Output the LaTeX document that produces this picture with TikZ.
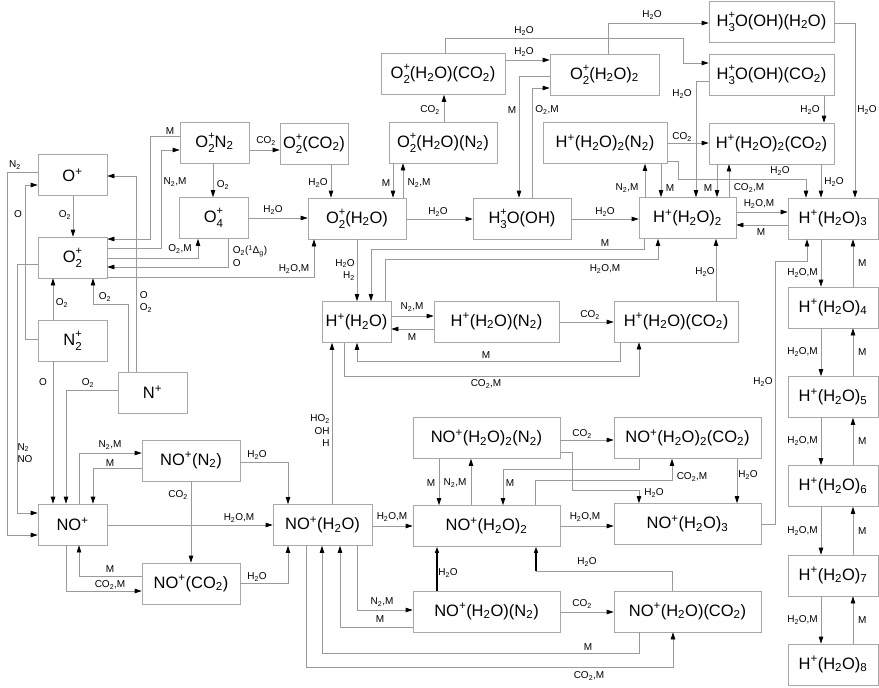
\documentclass[tikz,border=0pt]{standalone}
\usepackage{fontspec}
\setmainfont{Liberation Sans}
\usetikzlibrary{arrows.meta}
\definecolor{lncol}{HTML}{9A9A9A}
\definecolor{boxcol}{HTML}{A8A8A8}
\newcommand{\dn}[1]{\textsubscript{#1}}
\newcommand{\pl}{\textsuperscript{+}}
\newcommand{\ion}[1]{\makebox[0pt][l]{\raisebox{0.5em}{\fontsize{11}{11}\selectfont +}}%
  \raisebox{-0.3em}{\fontsize{11.5}{11.5}\selectfont #1}}
\begin{document}
\begin{tikzpicture}[x=1pt, y=-1pt,
  box/.style={draw=boxcol, line width=0.7pt, minimum height=41pt, inner sep=0pt,
    font=\fontsize{16.5}{18}\selectfont},
  ln/.style={draw=lncol, line width=0.7pt},
  rx/.style={ln, -{Triangle[length=7pt,width=4.5pt,color=black]}},
  rxb/.style={draw=black, line width=1.3pt, -{Triangle[length=6pt,width=4pt]}},
  lbl/.style={font=\fontsize{10}{12.5}\selectfont, inner sep=0pt}]
  \useasboundingbox (0,0) rectangle (879,688);
  % atomic and small ions
  \node[box, minimum width=69pt] (Op) at (72.5,175) {O\pl};
  \node[box, minimum width=69pt] (Otwo) at (72.5,257.5) {O\ion2};
  \node[box, minimum width=69pt] (NtwoP) at (72.5,340.5) {N\ion2};
  \node[box, minimum width=69pt] (Np) at (152.5,392.5) {N\pl};
  \node[box, minimum width=69pt] (NOp) at (72.5,524.5) {NO\pl};
  \node[box, minimum width=98pt] (NON) at (191,460.5) {NO\pl(N\dn2)};
  \node[box, minimum width=98pt] (NOC) at (191,583.5) {NO\pl(CO\dn2)};
  \node[box, minimum width=99pt] (NOW1) at (322.5,525) {NO\pl(H\dn2O)};
  % oxygen cluster ions
  \node[box, minimum width=69pt] (OtwoN) at (214.5,142.5) {O\ion2N\dn2};
  \node[box, minimum width=69pt] (Ofour) at (213.5,218) {O\ion4};
  \node[box, minimum width=68pt] (OtwoC) at (314,143.5) {O\ion2(CO\dn2)};
  \node[box, minimum width=98pt] (OW1) at (357,218.5) {O\ion2(H\dn2O)};
  \node[box, minimum width=108pt] (OW1N) at (443,142.5) {O\ion2(H\dn2O)(N\dn2)};
  \node[box, minimum width=124pt] (OW1C) at (443,74) {O\ion2(H\dn2O)(CO\dn2)};
  \node[box, minimum width=109pt] (OW2) at (604.5,74.5) {O\ion2(H\dn2O)\dn2};
  \node[box, minimum width=98pt] (HOH) at (522,218.5) {H\ion3O(OH)};
  \node[box, minimum width=125pt] (HOHW) at (771.5,21.5) {H\ion3O(OH)(H\dn2O)};
  \node[box, minimum width=125pt] (HOHC) at (771.5,75) {H\ion3O(OH)(CO\dn2)};
  % proton hydrates
  \node[box, minimum width=124pt] (HW2N) at (605,143) {H\pl(H\dn2O)\dn2(N\dn2)};
  \node[box, minimum width=125pt] (HW2C) at (771.5,143.5) {H\pl(H\dn2O)\dn2(CO\dn2)};
  \node[box, minimum width=97pt] (HW2) at (687.5,218) {H\pl(H\dn2O)\dn2};
  \node[box, minimum width=69pt] (HW1) at (356.5,322) {H\pl(H\dn2O)};
  \node[box, minimum width=125pt] (HW1N) at (496.5,321.5) {H\pl(H\dn2O)(N\dn2)};
  \node[box, minimum width=124pt] (HW1C) at (676,321.5) {H\pl(H\dn2O)(CO\dn2)};
  \foreach \n/\y in {3/218.5,4/307.5,5/397,6/486,7/575.5,8/664.5}
    \node[box, minimum width=90pt] (HW\n) at (833,\y) {H\pl(H\dn2O)\dn{\n}};
  % NO+ hydrates
  \node[box, minimum width=147pt] (NOW2N) at (486.5,438) {NO\pl(H\dn2O)\dn2(N\dn2)};
  \node[box, minimum width=147pt] (NOW2) at (486.5,526) {NO\pl(H\dn2O)\dn2};
  \node[box, minimum width=147pt] (NOW1N) at (486.5,611.5) {NO\pl(H\dn2O)(N\dn2)};
  \node[box, minimum width=147pt] (NOW2C) at (687.5,438) {NO\pl(H\dn2O)\dn2(CO\dn2)};
  \node[box, minimum width=147pt] (NOW3) at (687.5,524) {NO\pl(H\dn2O)\dn3};
  \node[box, minimum width=147pt] (NOW1C) at (687.5,611.5) {NO\pl(H\dn2O)(CO\dn2)};

  % left side reactions
  \draw[rx] (Op.west |- 0,172) -- (7,172) -- (7,535) -- (NOp.west |- 0,535);
  \draw[rx] (NtwoP.west |- 0,339) -- (25,339) -- (25,185) -- (Op.west |- 0,185);
  \draw[rx] (Op.south -| 73,0) -- (Otwo.north -| 73,0);
  \draw[rx] (Otwo.west |- 0,264) -- (17,264) -- (17,513) -- (NOp.west |- 0,513);
  \draw[rx] (NtwoP.north -| 53,0) -- (Otwo.south -| 53,0);
  \draw[rx] (Np.north -| 128,0) -- (128,304) -- (93,304) -- (Otwo.south -| 93,0);
  \draw[rx] (Np.north -| 136,0) -- (136,176) -- (Op.east |- 0,176);
  \draw[rx] (NtwoP.south -| 53,0) -- (NOp.north -| 53,0);
  \draw[rx] (Np.west |- 0,390) -- (66,390) -- (NOp.north -| 66,0);
  \draw[rx] (NOp.north -| 79,0) -- (79,453) -- (NON.west |- 0,453);
  \draw[rx] (NON.west |- 0,468) -- (93,468) -- (NOp.north -| 93,0);
  \draw[rx] (NON.south -| 191,0) -- (NOC.north -| 191,0);
  \draw[rx] (NON.east |- 0,462) -- (288,462) -- (NOW1.north -| 288,0);
  \draw[rx] (NOp.east |- 0,525) -- (NOW1.west |- 0,525);
  \draw[rx] (NOC.west |- 0,576) -- (79,576) -- (NOp.south -| 79,0);
  \draw[rx] (NOp.south -| 66,0) -- (66,591) -- (NOC.west |- 0,591);
  \draw[rx] (NOC.east |- 0,583) -- (288,583) -- (NOW1.south -| 288,0);
  % O2+ branch
  \draw[rx] (OtwoN.west |- 0,136) -- (150,136) -- (150,239) -- (Otwo.east |- 0,239);
  \draw[rx] (Otwo.east |- 0,248) -- (161,248) -- (161,150) -- (OtwoN.west |- 0,150);
  \draw[rx] (Otwo.east |- 0,258) -- (198,258) -- (Ofour.south -| 198,0);
  \draw[rx] (Ofour.south -| 228,0) -- (228,267) -- (Otwo.east |- 0,267);
  \draw[rx] (Otwo.east |- 0,277) -- (314,277) -- (OW1.south -| 314,0);
  \draw[rx] (OtwoN.east |- 0,150) -- (OtwoC.west |- 0,150);
  \draw[rx] (OtwoN.south -| 213,0) -- (Ofour.north -| 213,0);
  \draw[rx] (Ofour.east |- 0,218) -- (OW1.west |- 0,218);
  \draw[rx] (OtwoC.south -| 331,0) -- (OW1.north -| 331,0);
  \draw[rx] (OW1.north -| 403,0) -- (OW1N.south -| 403,0);
  \draw[rx] (OW1N.south -| 393,0) -- (OW1.north -| 393,0);
  \draw[rx] (OW1N.north -| 444,0) -- (OW1C.south -| 444,0);
  \draw[rx] (OW1.east |- 0,219) -- (HOH.west |- 0,219);
  \draw[rx] (OW1C.east |- 0,60) -- (OW2.west |- 0,60);
  \draw[rx] (OW1C.north -| 445,0) -- (445,38) -- (683,38) -- (683,63) -- (HOHC.west |- 0,63);
  \draw[rx] (OW2.north -| 608,0) -- (608,23) -- (HOHW.west |- 0,23);
  \draw[rx] (OW2.west |- 0,76) -- (519,76) -- (HOH.north -| 519,0);
  \draw[rx] (HOH.north -| 532,0) -- (532,88) -- (OW2.west |- 0,88);
  \draw[rx] (HOH.east |- 0,219) -- (HW2.west |- 0,219);
  \draw[rx] (HOHC.west |- 0,81) -- (696,81) -- (HW2.north -| 696,0);
  \draw[rx] (HOHC.south -| 824,0) -- (HW2C.north -| 824,0);
  \draw[rx] (HOHW.east |- 0,23) -- (855,23) -- (HW3.north -| 855,0);
  % H+(H2O)2 clusters
  \draw[rx] (HW2N.east |- 0,143) -- (HW2C.west |- 0,143);
  \draw[rx] (HW2.north -| 645,0) -- (HW2N.south -| 645,0);
  \draw[rx] (HW2N.south -| 661,0) -- (HW2.north -| 661,0);
  \draw[rx] (HW2N.east |- 0,161) -- (678,161) -- (678,179) -- (806,179) -- (HW3.north -| 806,0);
  \draw[rx] (HW2C.south -| 717,0) -- (HW2.north -| 717,0);
  \draw[rx] (HW2.north -| 729,0) -- (HW2C.south -| 729,0);
  \draw[rx] (HW2C.south -| 821,0) -- (HW3.north -| 821,0);
  \draw[rx] (HW2.east |- 0,212) -- (HW3.west |- 0,212);
  \draw[rx] (HW3.west |- 0,225) -- (HW2.east |- 0,225);
  \foreach \a/\b/\ly in {3/4/273,4/5/352,5/6/441,6/7/531,7/8/620}{
    \draw[rx] (HW\a.south -| 821,0) -- (HW\b.north -| 821,0);
    \draw[rx] (HW\b.north -| 853,0) -- (HW\a.south -| 853,0);
    \path (HW\a.south) -- coordinate (m\a) (HW\b.north);
    \node[lbl, anchor=east] (lw\a) at (818,\ly) {H\dn2O,M};
    \node[lbl, anchor=west] (lm\a) at (m\a -| 858,0) {M};
  }
  \draw[rx] (NOW3.east |- 0,524) -- (775,524) -- (775,261) -- (807,261) -- (HW3.south -| 807,0);
  % H+(H2O) clusters
  \draw[rx] (HW2.south -| 644,0) -- (644,249) -- (371,249) -- (HW1.north -| 371,0);
  \draw[rx] (HW1.north -| 385,0) -- (385,259) -- (658,259) -- (HW2.south -| 658,0);
  \draw[rx] (OW1.south -| 357,0) -- (HW1.north -| 357,0);
  \draw[rx] (HW1.east |- 0,316) -- (HW1N.west |- 0,316);
  \draw[rx] (HW1N.west |- 0,329) -- (HW1.east |- 0,329);
  \draw[rx] (HW1N.east |- 0,322) -- (HW1C.west |- 0,322);
  \draw[rx] (HW1C.south -| 620,0) -- (620,361) -- (357,361) -- (HW1.south -| 357,0);
  \draw[rx] (HW1.south -| 344,0) -- (344,376) -- (639,376) -- (HW1C.south -| 639,0);
  \draw[rx] (HW1C.north -| 716,0) -- (HW2.south -| 716,0);
  \draw[rx] (NOW1.north -| 332,0) -- (HW1.south -| 332,0);
  % NO+ hydrate reactions
  \draw[rx] (NOW1.east |- 0,526) -- (NOW2.west |- 0,526);
  \draw[rx] (NOW2N.south -| 439,0) -- (NOW2.north -| 439,0);
  \draw[rx] (NOW2.north -| 471,0) -- (NOW2N.south -| 471,0);
  \draw[rx] (NOW2C.south -| 639,0) -- (639,469) -- (503,469) -- (NOW2.north -| 503,0);
  \draw[rx] (NOW2.north -| 535,0) -- (535,480) -- (672,480) -- (NOW2C.south -| 672,0);
  \draw[rx] (NOW2N.east |- 0,440) -- (NOW2C.west |- 0,440);
  \draw[rx] (NOW2N.east |- 0,452) -- (572,452) -- (572,490) -- (639,490) -- (NOW3.north -| 639,0);
  \draw[rx] (NOW2C.south -| 737,0) -- (NOW3.north -| 737,0);
  \draw[rx] (NOW2.east |- 0,526) -- (NOW3.west |- 0,526);
  \draw[rxb] (NOW1N.north -| 437,0) -- (NOW2.south -| 437,0);
  \coordinate (k80) at (536,571);
  \draw[ln] (NOW1C.north -| 672,0) -- (672,571) -- (k80);
  \draw[rxb] (k80) -- (NOW2.south -| 536,0);
  \draw[rx] (NOW1N.east |- 0,612) -- (NOW1C.west |- 0,612);
  \draw[rx] (NOW1.south -| 357,0) -- (357,610) -- (NOW1N.west |- 0,610);
  \draw[rx] (NOW1N.west |- 0,627) -- (340,627) -- (NOW1.south -| 340,0);
  \draw[rx] (NOW1C.south -| 639,0) -- (639,653) -- (322,653) -- (NOW1.south -| 322,0);
  \draw[rx] (NOW1.south -| 306,0) -- (306,667) -- (673,667) -- (NOW1C.south -| 673,0);

  % reactant labels
  \node[lbl] (l1) at (15,165) {N\dn2};
  \node[lbl] (l2) at (18,214) {O};
  \node[lbl] (l3) at (65,215) {O\dn2};
  \node[lbl] (l4) at (62,303) {O\dn2};
  \node[lbl] (l5) at (105,297) {O\dn2};
  \node[lbl, align=left] (l6) at (146,302) {O\\O\dn2};
  \node[lbl, align=left] (l7) at (25,453) {N\dn2\\NO};
  \node[lbl] (l8) at (43,382) {O};
  \node[lbl] (l9) at (88,383) {O\dn2};
  \node[lbl] (l10) at (110,445) {N\dn2,M};
  \node[lbl] (l11) at (110,463) {M};
  \node[lbl] (l12) at (257,455) {H\dn2O};
  \node[lbl] (l13) at (178,495) {CO\dn2};
  \node[lbl] (l14) at (239,518) {H\dn2O,M};
  \node[lbl] (l15) at (110,569) {M};
  \node[lbl] (l16) at (110,585) {CO\dn2,M};
  \node[lbl] (l17) at (257,577) {H\dn2O};
  \node[lbl] (l18) at (170,131) {M};
  \node[lbl] (l19) at (266,141) {CO\dn2};
  \node[lbl] (l20) at (175,182) {N\dn2,M};
  \node[lbl] (l21) at (223,185) {O\dn2};
  \node[lbl] (l22) at (273,210) {H\dn2O};
  \node[lbl] (l23) at (180,249) {O\dn2,M};
  \node[lbl, align=left] (l24) at (250,256) {O\dn2(\textsuperscript{1}Δ\dn{g})\\O};
  \node[lbl] (l25) at (294,269) {H\dn2O,M};
  \node[lbl] (l26) at (318,183) {H\dn2O};
  \node[lbl] (l27) at (386,183) {M};
  \node[lbl] (l28) at (419,183) {N\dn2,M};
  \node[lbl] (l29) at (430,110) {CO\dn2};
  \node[lbl] (l30) at (438,212) {H\dn2O};
  \node[lbl] (l31) at (524,52) {H\dn2O};
  \node[lbl] (l32) at (524,31) {H\dn2O};
  \node[lbl] (l33) at (512,110) {M};
  \node[lbl] (l34) at (547,110) {O\dn2,M};
  \node[lbl] (l35) at (652,15) {H\dn2O};
  \node[lbl] (l36) at (682,94) {H\dn2O};
  \node[lbl] (l37) at (810,110) {H\dn2O};
  \node[lbl] (l38) at (867,110) {H\dn2O};
  \node[lbl] (l39) at (682,137) {CO\dn2};
  \node[lbl] (l40) at (627,188) {N\dn2,M};
  \node[lbl] (l41) at (670,188) {M};
  \node[lbl] (l42) at (708,188) {M};
  \node[lbl] (l43) at (749,188) {CO\dn2,M};
  \node[lbl] (l44) at (780,171) {H\dn2O};
  \node[lbl] (l45) at (834,182) {H\dn2O};
  \node[lbl] (l46) at (759,204) {H\dn2O,M};
  \node[lbl] (l47) at (761,232) {M};
  \node[lbl] (l48) at (605,212) {H\dn2O};
  \node[lbl] (l49) at (605,243) {M};
  \node[lbl] (l50) at (605,269) {H\dn2O,M};
  \node[lbl] (l51) at (705,272) {H\dn2O};
  \node[lbl, align=right] (l52) at (345,270) {H\dn2O\\H\dn2};
  \node[lbl] (l53) at (412,307) {N\dn2,M};
  \node[lbl] (l54) at (412,337) {M};
  \node[lbl] (l55) at (590,315) {CO\dn2};
  \node[lbl] (l56) at (486,355) {M};
  \node[lbl] (l57) at (486,384) {CO\dn2,M};
  \node[lbl, align=right] (l58) at (320,431) {HO\dn2\\OH\\H};
  \node[lbl] (l59) at (392,517) {H\dn2O,M};
  \node[lbl] (l60) at (431,483) {M};
  \node[lbl] (l61) at (455,483) {N\dn2,M};
  \node[lbl] (l62) at (510,483) {M};
  \node[lbl] (l63) at (692,477) {CO\dn2,M};
  \node[lbl] (l64) at (582,434) {CO\dn2};
  \node[lbl] (l65) at (654,493) {H\dn2O};
  \node[lbl] (l66) at (748,475) {H\dn2O};
  \node[lbl] (l67) at (585,517) {H\dn2O,M};
  \node[lbl] (l68) at (448,573) {H\dn2O};
  \node[lbl] (l69) at (587,562) {H\dn2O};
  \node[lbl] (l70) at (582,604) {CO\dn2};
  \node[lbl] (l71) at (382,602) {N\dn2,M};
  \node[lbl] (l72) at (380,619) {M};
  \node[lbl] (l73) at (588,647) {M};
  \node[lbl] (l74) at (589,676) {CO\dn2,M};
  \node[lbl] (l75) at (763,382) {H\dn2O};
\end{tikzpicture}
\end{document}
